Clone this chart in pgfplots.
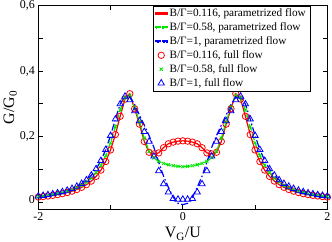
\documentclass[border=0pt]{standalone}
\usepackage{pgfplots}
\pgfplotsset{compat=1.18}
\usepackage{pgfplotstable}
\usepackage{fontspec}
\setmainfont{Liberation Serif}
\definecolor{cred}{RGB}{255,0,0}
\definecolor{cgreen}{RGB}{0,230,0}
\definecolor{cblue}{RGB}{0,0,255}

\pgfplotstableread{
x r g b bd
-2.0000 0.0151 0.0165 0.0179 0.0179
-1.9333 0.0166 0.0182 0.0197 0.0197
-1.8667 0.0183 0.0201 0.0219 0.0219
-1.8000 0.0203 0.0224 0.0244 0.0244
-1.7333 0.0227 0.0251 0.0274 0.0274
-1.6667 0.0255 0.0283 0.0311 0.0311
-1.6000 0.0289 0.0322 0.0355 0.0355
-1.5333 0.0331 0.0370 0.0409 0.0409
-1.4667 0.0383 0.0430 0.0477 0.0477
-1.4000 0.0448 0.0506 0.0563 0.0563
-1.3333 0.0531 0.0603 0.0674 0.0674
-1.2667 0.0639 0.0729 0.0818 0.0818
-1.2000 0.0782 0.0896 0.1010 0.1010
-1.1333 0.0974 0.1120 0.1265 0.1265
-1.0667 0.1236 0.1418 0.1600 0.1600
-1.0000 0.1590 0.1810 0.2030 0.2030
-0.9333 0.2060 0.2295 0.2530 0.2530
-0.8667 0.2620 0.2810 0.2995 0.2995
-0.8000 0.3145 0.3190 0.3230 0.3230
-0.7333 0.3310 0.3260 0.3120 0.3200
-0.6667 0.2850 0.2900 0.2780 0.2980
-0.6000 0.2380 0.2450 0.2480 0.2660
-0.5333 0.1850 0.1950 0.2150 0.2350
-0.4667 0.1520 0.1550 0.1850 0.2030
-0.4000 0.1470 0.1350 0.1400 0.1670
-0.3333 0.1500 0.1240 0.0950 0.1220
-0.2667 0.1660 0.1180 0.0550 0.0790
-0.2000 0.1780 0.1140 0.0300 0.0450
-0.1333 0.1830 0.1110 0.0100 0.0150
-0.0667 0.1860 0.1090 0.0080 -0.0040
0.0000 0.1870 0.1080 0.0080 -0.0080
0.0667 0.1860 0.1090 0.0080 -0.0040
0.1333 0.1830 0.1110 0.0100 0.0150
0.2000 0.1780 0.1140 0.0300 0.0450
0.2667 0.1660 0.1180 0.0550 0.0790
0.3333 0.1500 0.1240 0.0950 0.1220
0.4000 0.1470 0.1350 0.1400 0.1670
0.4667 0.1520 0.1550 0.1850 0.2030
0.5333 0.1850 0.1950 0.2150 0.2350
0.6000 0.2380 0.2450 0.2480 0.2660
0.6667 0.2850 0.2900 0.2780 0.2980
0.7333 0.3310 0.3260 0.3120 0.3200
0.8000 0.3145 0.3190 0.3230 0.3230
0.8667 0.2620 0.2810 0.2995 0.2995
0.9333 0.2060 0.2295 0.2530 0.2530
1.0000 0.1590 0.1810 0.2030 0.2030
1.0667 0.1236 0.1418 0.1600 0.1600
1.1333 0.0974 0.1120 0.1265 0.1265
1.2000 0.0782 0.0896 0.1010 0.1010
1.2667 0.0639 0.0729 0.0818 0.0818
1.3333 0.0531 0.0603 0.0674 0.0674
1.4000 0.0448 0.0506 0.0563 0.0563
1.4667 0.0383 0.0430 0.0477 0.0477
1.5333 0.0331 0.0370 0.0409 0.0409
1.6000 0.0289 0.0322 0.0355 0.0355
1.6667 0.0255 0.0283 0.0311 0.0311
1.7333 0.0227 0.0251 0.0274 0.0274
1.8000 0.0203 0.0224 0.0244 0.0244
1.8667 0.0183 0.0201 0.0219 0.0219
1.9333 0.0166 0.0182 0.0197 0.0197
2.0000 0.0151 0.0165 0.0179 0.0179
}\data

\begin{document}
\begin{tikzpicture}
\path[use as bounding box] (-38.3bp,-33bp) rectangle (293.7bp,209bp);
\begin{axis}[
  scale only axis, width=289bp, height=203.3bp,
  xmin=-2, xmax=2, ymin=-0.0214, ymax=0.6,
  axis line style={line width=1bp},
  tick style={line width=0.8bp, black},
  major tick length=4.5bp,
  tick align=inside,
  xtick={-2,-1,0,1,2}, xticklabels={-2,,0,,2},
  ytick={0,0.1,0.2,0.3,0.4,0.5,0.6},
  yticklabels={\raisebox{5bp}{0},,{0,2},,{0,4},,{0,6}},
  ticklabel style={font=\fontsize{12}{14}\selectfont},
  xlabel={V\textsubscript{G}/U}, ylabel={G/G\textsubscript{0}},
  label style={font=\fontsize{16}{18}\selectfont},
  ylabel style={at={(axis description cs:-0.097,0.5)}, anchor=center},
  legend image code/.code={\draw[mark repeat=2,mark phase=2,#1] plot coordinates {(0bp,0bp) (5.7bp,0bp) (11.4bp,0bp)};},
  legend style={at={(0.94,1)}, anchor=north east,
    font=\fontsize{11.3}{13}\selectfont, inner xsep=2bp, inner ysep=1bp,
    row sep=0.5bp, nodes={inner ysep=1bp, text height=8.6bp, text depth=2.8bp}},
  legend cell align=left,
]
\addplot[color=cred, line width=1.2bp,
  legend image code/.code={\fill[cred] (0bp,-0.65bp) rectangle (11.4bp,0.65bp);}] table[x=x,y=r]{\data};
\addlegendentry{B/Γ=0.116, parametrized flow}
\addplot[color=cgreen, line width=1.2bp, dash pattern=on 7bp off 3bp,
  legend image code/.code={\fill[cgreen] (0bp,-0.65bp) rectangle (4.5bp,0.65bp) (6.9bp,-0.65bp) rectangle (11.4bp,0.65bp);}] table[x=x,y=g]{\data};
\addlegendentry{B/Γ=0.58, parametrized flow}
\addplot[color=cblue, line width=1.2bp, dash pattern=on 7bp off 2.5bp on 1.5bp off 2.5bp,
  legend image code/.code={\fill[cblue] (0bp,-0.65bp) rectangle (5bp,0.65bp) (7bp,-0.65bp) rectangle (8.6bp,0.65bp) (10.4bp,-0.65bp) rectangle (11.4bp,0.65bp);}] table[x=x,y=bd]{\data};
\addlegendentry{B/Γ=1, parametrized flow}
\addplot[cred, only marks, mark=o, mark size=3.2bp, mark options={line width=0.8bp}] table[x=x,y=r]{\data};
\addlegendentry{B/Γ=0.116, full flow}
\addplot[cgreen, only marks, mark=x, mark size=2.2bp, mark options={line width=0.8bp}] table[x=x,y=g]{\data};
\addlegendentry{B/Γ=0.58, full flow}
\addplot[cblue, only marks, mark=triangle, mark size=3.6bp, mark options={line width=0.8bp}] table[x=x,y=b]{\data};
\addlegendentry{B/Γ=1, full flow}
\end{axis}
\end{tikzpicture}
\end{document}
